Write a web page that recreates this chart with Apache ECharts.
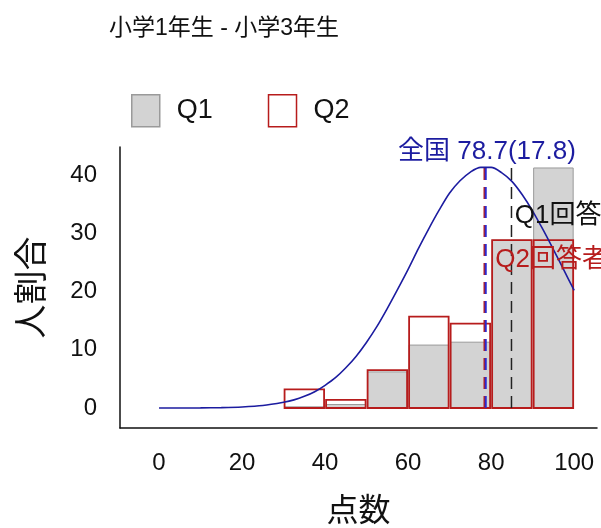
<!DOCTYPE html>
<html><head><meta charset="utf-8">
<script src="https://cdn.jsdelivr.net/npm/echarts@6/dist/echarts.min.js"></script>
<style>html,body{margin:0;padding:0;background:#fff}#c{width:601px;height:528px}</style>
</head><body><div id="c"></div>
<script>
// ---- data ----
const binStarts = [30, 40, 50, 60, 70, 80, 90];
const binWidth = 10;
const q1Values = [0.2, 0.6, 6.2, 10.8, 11.3, 28.8, 41.2];
const q2Values = [3.2, 1.4, 6.5, 15.7, 14.5, 28.8, 28.8];
const curveX = [0, 5, 10, 15, 20, 25, 30, 32.5, 35, 37.5, 40, 42.5, 45, 47.5, 50, 52.5, 55, 57.5, 60, 62.5, 65, 67.5, 70, 72.5, 75, 77.5, 80, 82.5, 85, 87.5, 90, 92.5, 95, 97.5, 100];
const curveY = [0.0, 0.0, 0.02, 0.07, 0.18, 0.43, 1.0, 1.4, 2.0, 2.8, 3.9, 5.2, 6.9, 8.9, 11.3, 14.0, 17.1, 20.4, 23.8, 27.4, 30.8, 34.0, 36.9, 39.0, 40.5, 41.3, 41.3, 40.4, 38.9, 36.6, 33.8, 30.6, 27.2, 23.7, 20.2];
const xTicks = [0, 20, 40, 60, 80, 100];
const yTicks = [0, 10, 20, 30, 40];
const nationalMean = 78.7;
const nationalSd = 17.8;
const q1Mean = 84.9;
const q2Mean = 78.4;
const meanLineTop = 41.4;
const titleText = '小学1年生 - 小学3年生';
const xName = '点数';
const yName = '人割合';
const nationalLabel = '全国 ' + nationalMean.toFixed(1) + '(' + nationalSd.toFixed(1) + ')';
const q1Label = 'Q1回答者';
const q2Label = 'Q2回答者';

// ---- styles ----
const FONT = '"Liberation Sans", Arial, "Noto Sans CJK JP", sans-serif';
const RED = '#b71c1c';
const BLUE = '#1c1ca0';
const GRAY_FILL = '#d3d3d3';
const GRAY_BORDER = '#9a9a9a';

function barRender(style) {
  return function (params, api) {
    const x0 = api.value(0), x1 = api.value(1), v = api.value(2);
    const p0 = api.coord([x0, 0]);
    const p1 = api.coord([x1, v]);
    return {
      type: 'rect',
      shape: { x: p0[0] + 1, y: p1[1], width: p1[0] - p0[0] - 2, height: p0[1] - p1[1] },
      style: style
    };
  };
}

const labelData = [
  [nationalMean + 0.3, 43.9, nationalLabel, BLUE, 'center'],
  [q1Mean + 0.8, 33.0, q1Label, '#111', 'left'],
  [q2Mean + 2.6, 25.4, q2Label, RED, 'left']
];

function textRender(params, api) {
  const p = api.coord([api.value(0), api.value(1)]);
  const d = labelData[params.dataIndex];
  return {
    type: 'text',
    x: p[0], y: p[1],
    style: { text: d[2], fill: d[3], fontSize: 26, fontFamily: FONT, align: d[4], verticalAlign: 'middle' }
  };
}

function vline(m) { return [[m, 0], [m, meanLineTop]]; }

const chart = echarts.init(document.getElementById('c'));
chart.setOption({
  animation: false,
  backgroundColor: '#fff',
  title: {
    text: titleText, left: 104, top: 12,
    textStyle: { fontSize: 23, fontWeight: 'normal', color: '#111', fontFamily: FONT }
  },
  legend: {
    left: 126, top: 89, itemWidth: 28, itemHeight: 32, itemGap: 55, icon: 'rect',
    textStyle: { fontSize: 27, color: '#111', fontFamily: FONT, padding: [0, 0, 0, 12] },
    data: [
      { name: 'Q1', itemStyle: { color: GRAY_FILL, borderColor: GRAY_BORDER, borderWidth: 1.5 } },
      { name: 'Q2', itemStyle: { color: '#fff', borderColor: RED, borderWidth: 1.5 } }
    ]
  },
  grid: { left: 120, right: 4, top: 147, bottom: 100, containLabel: false, outerBoundsMode: 'none' },
  xAxis: {
    type: 'value', min: -9.4, max: 105.5,
    name: xName, nameLocation: 'middle', nameGap: 68,
    nameTextStyle: { fontSize: 32, color: '#111', fontFamily: FONT },
    axisLine: { show: true, onZero: false, lineStyle: { color: '#111', width: 1.5 } },
    axisTick: { show: false },
    splitLine: { show: false },
    axisLabel: { customValues: xTicks, fontSize: 24, color: '#111', fontFamily: FONT, margin: 23 }
  },
  yAxis: {
    type: 'value', min: -3.43, max: 44.8,
    name: yName, nameLocation: 'middle', nameGap: 69,
    nameTextStyle: { fontSize: 34, color: '#111', fontFamily: FONT },
    axisLine: { show: true, onZero: false, lineStyle: { color: '#111', width: 1.5 } },
    axisTick: { show: false },
    splitLine: { show: false },
    axisLabel: { customValues: yTicks, fontSize: 24, color: '#111', fontFamily: FONT, margin: 23 }
  },
  series: [
    {
      name: 'Q1', type: 'custom', silent: true, z: 2,
      encode: { x: [0, 1], y: 2 },
      renderItem: barRender({ fill: GRAY_FILL, stroke: GRAY_BORDER, lineWidth: 1 }),
      data: binStarts.map((s, i) => [s, s + binWidth, q1Values[i]])
    },
    {
      name: 'Q2', type: 'custom', silent: true, z: 3,
      encode: { x: [0, 1], y: 2 },
      renderItem: barRender({ fill: 'none', stroke: RED, lineWidth: 1.8 }),
      data: binStarts.map((s, i) => [s, s + binWidth, q2Values[i]])
    },
    {
      name: 'q2mean', type: 'line', z: 4, showSymbol: false, silent: true,
      lineStyle: { color: RED, width: 2, type: [12, 7] },
      data: vline(q2Mean)
    },
    {
      name: 'natmean', type: 'line', z: 5, showSymbol: false, silent: true,
      lineStyle: { color: '#2a2ad0', width: 2, type: [12, 7] },
      data: vline(nationalMean)
    },
    {
      name: 'q1mean', type: 'line', z: 5, showSymbol: false, silent: true,
      lineStyle: { color: '#222', width: 1.5, type: [12, 7] },
      data: vline(q1Mean)
    },
    {
      name: 'curve', type: 'line', z: 6, showSymbol: false, silent: true, smooth: 0.3,
      lineStyle: { color: BLUE, width: 1.6 },
      data: curveX.map((x, i) => [x, curveY[i]])
    },
    {
      name: 'labels', type: 'custom', silent: true, z: 7,
      encode: { x: 0, y: 1 },
      renderItem: textRender,
      data: labelData.map(d => [d[0], d[1]])
    }
  ]
});
</script></body></html>
